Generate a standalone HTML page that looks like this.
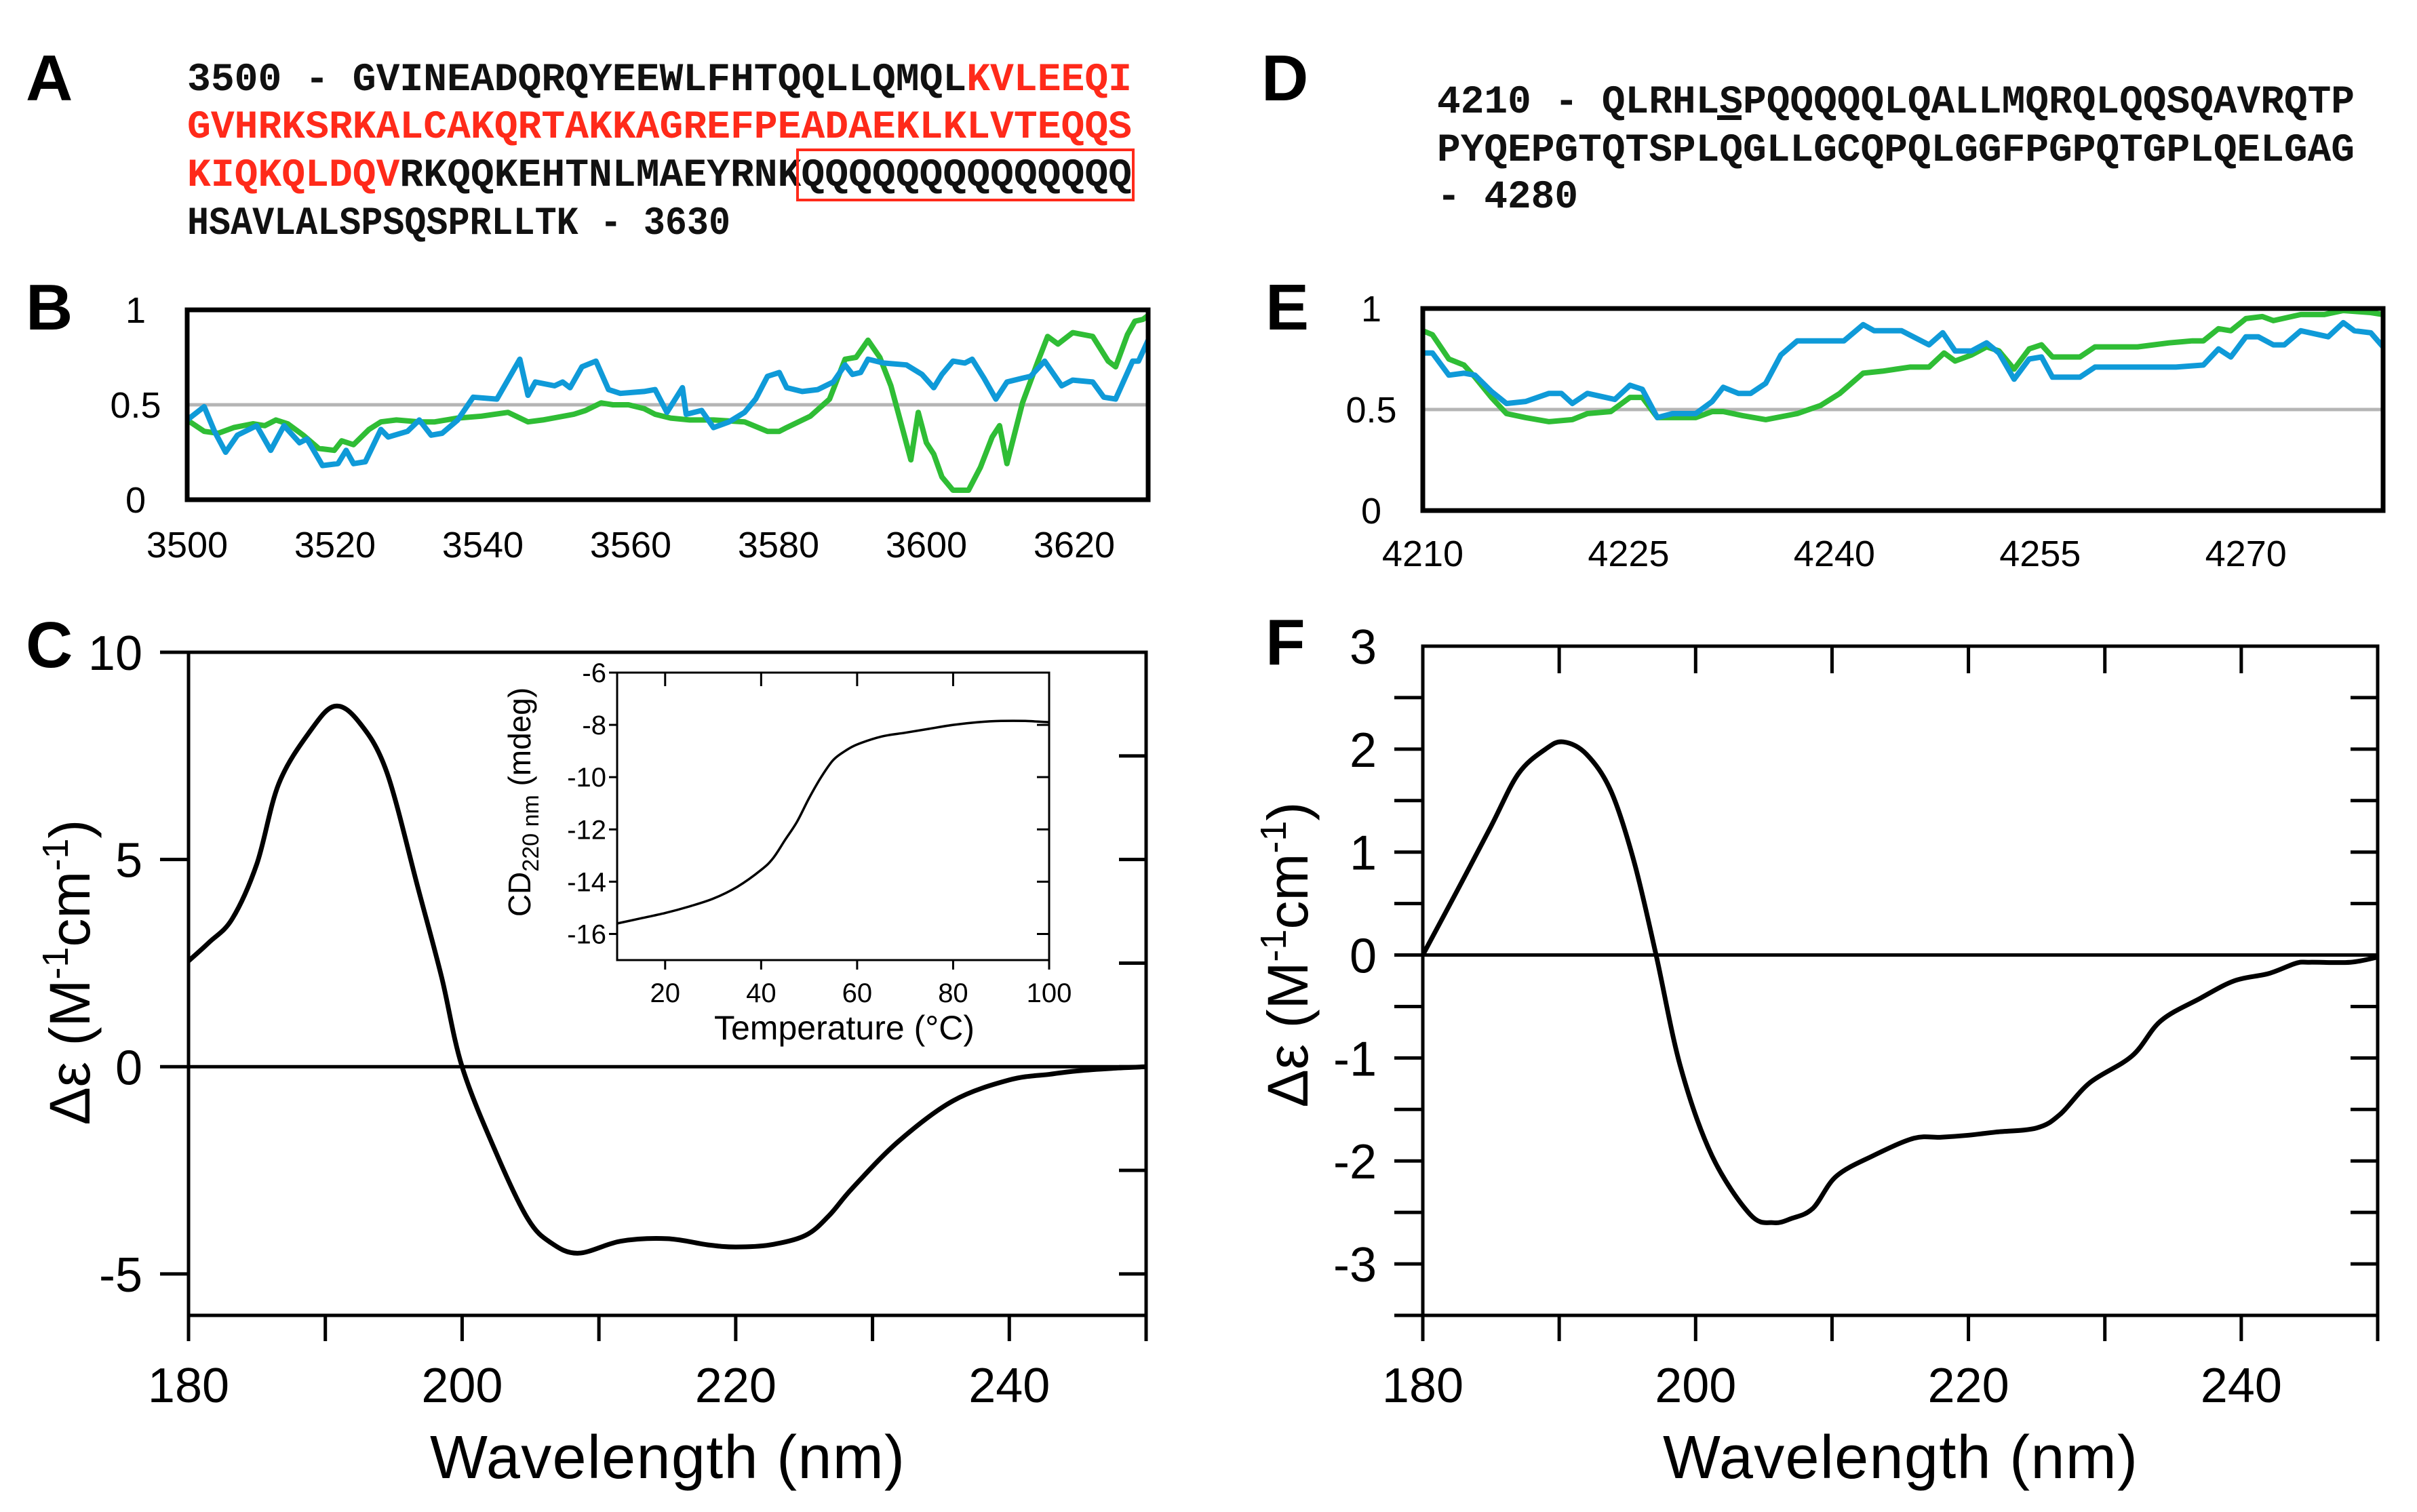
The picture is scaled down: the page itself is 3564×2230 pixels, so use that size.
<!DOCTYPE html>
<html><head><meta charset="utf-8"><style>
html,body{margin:0;padding:0;background:#fff;}
svg{display:block;}
.lbl{font-family:"Liberation Sans",sans-serif;font-weight:bold;font-size:96px;fill:#000;}
.seq{font-family:"Liberation Mono",monospace;font-weight:bold;font-size:58px;}
.tk{font-family:"Liberation Sans",sans-serif;fill:#000;}
</style></head><body>
<svg id="fig" width="3564" height="2230" viewBox="0 0 3564 2230" xmlns="http://www.w3.org/2000/svg">
<rect width="3564" height="2230" fill="#fff"/>
<text class="lbl" x="38" y="148">A</text>
<text class="lbl" x="38" y="486">B</text>
<text class="lbl" x="38" y="984">C</text>
<text class="lbl" x="1860" y="148">D</text>
<text class="lbl" x="1866" y="486">E</text>
<text class="lbl" x="1866" y="980">F</text>
<g>
<text class="seq" x="276" y="133" textLength="1393" lengthAdjust="spacingAndGlyphs"><tspan fill="#111">3500 - GVINEADQRQYEEWLFHTQQLLQMQL</tspan><tspan fill="#ff2a1a">KVLEEQI</tspan></text>
<text class="seq" x="276" y="203" textLength="1393" lengthAdjust="spacingAndGlyphs" fill="#ff2a1a">GVHRKSRKALCAKQRTAKKAGREFPEADAEKLKLVTEQQS</text>
<text class="seq" x="276" y="274" textLength="1393" lengthAdjust="spacingAndGlyphs"><tspan fill="#ff2a1a">KIQKQLDQV</tspan><tspan fill="#111">RKQQKEHTNLMAEYRNKQQQQQQQQQQQQQQ</tspan></text>
<text class="seq" x="276" y="345" textLength="801" lengthAdjust="spacingAndGlyphs" fill="#111">HSAVLALSPSQSPRLLTK - 3630</text>
<rect x="1176" y="221" width="495" height="74" fill="none" stroke="#ff2a1a" stroke-width="4"/>
</g>
<g>
<text class="seq" x="2119" y="166" textLength="1353" lengthAdjust="spacingAndGlyphs" fill="#111">4210 - QLRHLSPQQQQQLQALLMQRQLQQSQAVRQTP</text>
<text class="seq" x="2119" y="237" textLength="1353" lengthAdjust="spacingAndGlyphs" fill="#111">PYQEPGTQTSPLQGLLGCQPQLGGFPGPQTGPLQELGAG</text>
<text class="seq" x="2119" y="306" textLength="208" lengthAdjust="spacingAndGlyphs" fill="#111">- 4280</text>
<rect x="2532" y="170" width="36" height="7" fill="#111"/>
</g>
<g id="layer"></g>
</svg>
<script>
// Panel B data
const bBlueRes=[3500,3502.3,3503.7,3505.2,3506.8,3509.4,3511.3,3513.1,3515.2,3516.2,3518.3,3520.4,3521.5,3522.5,3524.1,3526.2,3527.2,3529.8,3531.4,3533.0,3534.5,3536.6,3538.7,3541.9,3545.0,3546.1,3547.1,3549.7,3550.8,3551.8,3553.4,3555.3,3557.0,3558.6,3561.8,3563.3,3564.9,3567.0,3567.5,3569.6,3571.2,3573.3,3575.4,3576.9,3578.5,3580.1,3581.1,3583.2,3585.3,3587.4,3589.0,3590.0,3591.1,3592.1,3594.2,3597.3,3599.4,3601.0,3602.1,3603.6,3605.2,3606.2,3607.8,3609.4,3610.9,3613.0,3614.1,3616.0,3618.3,3619.8,3622.5,3624.0,3625.6,3627.9,3628.7,3630];
const bBlueVal=[.42,.49,.36,.25,.34,.39,.26,.39,.30,.32,.18,.19,.26,.19,.20,.37,.33,.36,.42,.34,.35,.42,.54,.53,.74,.55,.62,.60,.62,.59,.70,.73,.58,.56,.57,.58,.46,.59,.45,.47,.38,.41,.46,.53,.65,.67,.59,.57,.58,.62,.71,.66,.67,.74,.72,.71,.66,.59,.66,.73,.72,.74,.64,.53,.62,.64,.65,.73,.60,.63,.62,.54,.53,.73,.73,.84];
const bGreenRes=[3500,3502.3,3504.2,3506.3,3508.9,3510.5,3512.0,3513.6,3515.7,3517.8,3519.9,3520.9,3522.5,3524.6,3526.2,3528.3,3531.4,3533.5,3536.6,3539.8,3543.4,3546.1,3548.1,3552.3,3553.9,3556.0,3557.6,3559.7,3561.8,3563.3,3565.4,3568.0,3571.2,3575.4,3578.5,3580.1,3581.1,3584.3,3586.9,3589.0,3590.5,3592.1,3593.7,3595.2,3596.8,3597.9,3598.9,3600.0,3601.0,3602.1,3603.6,3605.7,3607.3,3608.9,3609.9,3610.9,3613.0,3615.1,3616.4,3617.8,3619.8,3622.5,3624.6,3625.6,3627.2,3628.2,3629.3,3630];
const bGreenVal=[.42,.36,.35,.38,.40,.39,.42,.40,.34,.27,.26,.31,.29,.37,.41,.42,.41,.41,.43,.44,.46,.41,.42,.45,.47,.51,.50,.50,.48,.45,.43,.42,.42,.41,.36,.36,.38,.44,.53,.74,.75,.84,.75,.60,.37,.21,.46,.30,.24,.12,.05,.05,.17,.33,.39,.19,.51,.73,.86,.82,.88,.86,.73,.70,.87,.94,.95,.97];
const bXTicks=[3500,3520,3540,3560,3580,3600,3620];
const bYTicks=[0,0.5,1];
// Panel E data
const eGreenRes=[4210,4210.7,4211.9,4213.0,4213.8,4215.0,4216.1,4217.5,4219.2,4220.9,4222.0,4223.7,4225.1,4226.0,4227.1,4228.2,4229.9,4231.1,4231.9,4233.3,4235.0,4237.3,4239.0,4240.4,4242.1,4243.5,4245.5,4246.9,4248.0,4248.8,4250.0,4251.1,4252.0,4253.1,4254.2,4255.1,4255.9,4257.9,4259.0,4262.1,4264.4,4266.1,4266.9,4268.0,4268.9,4270.0,4271.2,4272.0,4274.0,4275.7,4277.1,4279.1,4280];
const eGreenVal=[.89,.87,.75,.72,.66,.56,.48,.46,.44,.45,.48,.49,.56,.56,.46,.46,.46,.49,.49,.47,.45,.48,.52,.58,.68,.69,.71,.71,.78,.74,.77,.81,.79,.70,.80,.82,.76,.76,.81,.81,.83,.84,.84,.90,.89,.95,.96,.94,.97,.97,.99,.98,.97];
const eBlueRes=[4210,4210.7,4211.9,4213.0,4213.8,4215.0,4216.1,4217.5,4219.2,4220.1,4220.9,4222.0,4224.0,4225.1,4226.0,4227.1,4228.2,4229.9,4231.1,4231.9,4233.0,4233.9,4235.0,4236.1,4237.3,4238.4,4240.7,4242.1,4242.9,4244.9,4246.9,4247.9,4248.8,4250.0,4251.1,4252.0,4253.1,4254.2,4255.1,4255.9,4257.9,4259.0,4264.9,4266.9,4268.0,4268.9,4270.0,4270.9,4272.0,4272.8,4274.0,4276.0,4277.1,4277.9,4279.1,4280];
const eBlueVal=[.78,.78,.67,.68,.67,.59,.53,.54,.58,.58,.53,.58,.55,.62,.60,.46,.48,.48,.54,.61,.58,.58,.63,.77,.84,.84,.84,.92,.89,.89,.82,.88,.79,.79,.83,.78,.65,.75,.76,.66,.66,.71,.71,.72,.80,.76,.86,.86,.82,.82,.89,.86,.93,.89,.88,.81];
const eXTicks=[4210,4225,4240,4255,4270];
const eYTicks=[0,0.5,1];
// Panel C data
const cWl=[180,181.5,183.2,185,186.6,188.9,190.7,192.5,194.5,196.8,198.5,200,202.5,204.8,206.5,208.5,211.6,215,218,220,222.5,225.1,226.8,228.5,231.9,235.9,240,243,245,247.5,250];
const cVal=[2.55,3.0,3.57,4.9,6.83,8.1,8.7,8.3,7.1,4.28,2.16,0,-2.09,-3.67,-4.25,-4.5,-4.21,-4.15,-4.3,-4.35,-4.3,-4.07,-3.6,-2.94,-1.8,-0.82,-0.32,-0.18,-0.1,-0.04,0];
const cXTicks=[180,200,220,240];
const cYTicks=[-5,0,5,10];
// Inset data
const iTemp=[10,15,20,25,30,35,40,42.5,45,47.5,50,52.5,55,57.5,60,65,70,75,80,85,90,95,100];
const iVal=[-15.6,-15.4,-15.2,-14.95,-14.65,-14.2,-13.55,-13.1,-12.4,-11.7,-10.8,-10.0,-9.35,-9.0,-8.75,-8.45,-8.3,-8.15,-8.0,-7.9,-7.85,-7.85,-7.9];
const iXTicks=[20,40,60,80,100];
const iYTicks=[-16,-14,-12,-10,-8,-6];
// Panel F data
const fWl=[180,182.5,185,187,189,190.3,192,193.8,195.5,197.1,198.9,201.2,204,205.7,207,208.6,210.3,213,216,218,220,222,225,226.7,228.9,232,234.1,237,239.5,242,244,245,248,250];
const fVal=[0,0.62,1.25,1.76,2.0,2.07,1.95,1.59,0.9,0,-1.09,-1.95,-2.52,-2.6,-2.56,-2.46,-2.15,-1.95,-1.78,-1.77,-1.75,-1.72,-1.68,-1.55,-1.24,-0.98,-0.64,-0.42,-0.25,-0.18,-0.08,-0.07,-0.07,-0.02];
const fXTicks=[180,200,220,240];
const fYTicks=[-3,-2,-1,0,1,2,3];

const NS='http://www.w3.org/2000/svg';
const layer=document.getElementById('layer');
function mk(tag,attrs,parent){const e=document.createElementNS(NS,tag);for(const k in attrs)e.setAttribute(k,attrs[k]);(parent||layer).appendChild(e);return e;}
function lin(d0,d1,r0,r1){return v=>r0+(v-d0)/(d1-d0)*(r1-r0);}
function pathD(xs,ys,sx,sy){return xs.map((x,i)=>(i?'L':'M')+sx(x).toFixed(1)+' '+sy(ys[i]).toFixed(1)).join(' ');}
function smoothD(xs,ys,sx,sy){
 const p=xs.map((x,i)=>[sx(x),sy(ys[i])]);
 let d='M'+p[0][0].toFixed(1)+' '+p[0][1].toFixed(1);
 for(let i=0;i<p.length-1;i++){
  const p0=p[Math.max(0,i-1)],p1=p[i],p2=p[i+1],p3=p[Math.min(p.length-1,i+2)];
  const c1x=p1[0]+(p2[0]-p0[0])/6,c1y=p1[1]+(p2[1]-p0[1])/6;
  const c2x=p2[0]-(p3[0]-p1[0])/6,c2y=p2[1]-(p3[1]-p1[1])/6;
  d+=` C${c1x.toFixed(1)} ${c1y.toFixed(1)} ${c2x.toFixed(1)} ${c2y.toFixed(1)} ${p2[0].toFixed(1)} ${p2[1].toFixed(1)}`;
 }
 return d;
}
function txt(x,y,s,size,anchor,parent){const t=mk('text',{x:x,y:y,'font-size':size,'text-anchor':anchor||'middle','class':'tk'},parent);t.textContent=s;return t;}

// ---------- Panel B ----------
(function(){
 const g=mk('g',{});
 
 
 const sx=lin(3500,3630,276,1693), sy=lin(0,1,737,457);
 const ref=mk('line',{x1:276,x2:1693,y1:sy(0.5),y2:sy(0.5),stroke:'#b5b5b5','stroke-width':5},g);
 
 
 const gr=mk('path',{d:pathD(bGreenRes,bGreenVal,sx,sy),fill:'none',stroke:'#2fbd35','stroke-width':8,'stroke-linejoin':'round'},g);
 
 
 const bl=mk('path',{d:pathD(bBlueRes,bBlueVal,sx,sy),fill:'none',stroke:'#0f9ad8','stroke-width':8,'stroke-linejoin':'round'},g);
 
 
 const fr=mk('rect',{x:276,y:457,width:1417,height:280,fill:'none',stroke:'#000','stroke-width':7},g);
 
 
 bXTicks.forEach(v=>{const t=txt(sx(v),822,String(v),54,'middle',g);
  
  });
 bYTicks.forEach(v=>{const t=txt(200,sy(v)+19,String(v),54,'middle',g);
  
  });
})();

// ---------- Panel E ----------
(function(){
 const g=mk('g',{});
 
 
 const sx=lin(4210,4280,2098,3514), sy=lin(0,1,753,455);
 const ref=mk('line',{x1:2098,x2:3514,y1:sy(0.5),y2:sy(0.5),stroke:'#b5b5b5','stroke-width':5},g);
 
 
 const gr=mk('path',{d:pathD(eGreenRes,eGreenVal,sx,sy),fill:'none',stroke:'#2fbd35','stroke-width':8,'stroke-linejoin':'round'},g);
 
 
 const bl=mk('path',{d:pathD(eBlueRes,eBlueVal,sx,sy),fill:'none',stroke:'#0f9ad8','stroke-width':8,'stroke-linejoin':'round'},g);
 
 
 const fr=mk('rect',{x:2098,y:455,width:1416,height:298,fill:'none',stroke:'#000','stroke-width':7},g);
 
 
 eXTicks.forEach(v=>{const t=txt(sx(v),835,String(v),54,'middle',g);
  
  });
 eYTicks.forEach(v=>{const t=txt(2022,sy(v)+19,String(v),54,'middle',g);
  
  });
})();

// ---------- CD panels ----------
function cdPanel(name,L,R,T,B,y0,y1,wl,val,xt,yt,rightMinor,leftTicks,topTicks,titleX,titleY){
 const g=mk('g',{});
 
 
 const sx=lin(180,250,L,R), sy=lin(y0,y1,B,T);
 const ax=mk('path',{d:`M${L} ${T} L${R} ${T} L${R} ${B} L${L} ${B} Z`,fill:'none',stroke:'#000','stroke-width':5},g);
 
 
 const zl=mk('line',{x1:L,x2:R,y1:sy(0),y2:sy(0),stroke:'#000','stroke-width':5},g);
 
 
 for(let w=180;w<=250;w+=10){const t=mk('line',{x1:sx(w),x2:sx(w),y1:B,y2:B+38,stroke:'#000','stroke-width':5},g);
  
  
  if(topTicks&&w>180&&w<250){const t2=mk('line',{x1:sx(w),x2:sx(w),y1:T,y2:T+40,stroke:'#000','stroke-width':5},g);
   
   }}
 rightMinor.forEach(v=>{const t=mk('line',{x1:R-40,x2:R,y1:sy(v),y2:sy(v),stroke:'#000','stroke-width':5},g);
  
  });
 leftTicks.forEach(v=>{const t=mk('line',{x1:L-42,x2:L,y1:sy(v),y2:sy(v),stroke:'#000','stroke-width':5},g);
  
  });
 xt.forEach(v=>{const t=txt(sx(v),2068,String(v),72,'middle',g);
  
  });
 yt.forEach(v=>{const t=txt(L-68,sy(v)+26,String(v),72,'end',g);
  
  });
 const cv=mk('path',{d:smoothD(wl,val,sx,sy),fill:'none',stroke:'#000','stroke-width':7,'stroke-linejoin':'round'},g);
 
 
 const xl=txt((L+R)/2,2180,'Wavelength (nm)',90,'middle',g);
 xl.setAttribute('textLength','700');
 
 
 const yl=mk('text',{x:0,y:0,'font-size':84,'text-anchor':'middle','class':'tk',transform:`translate(${titleX},${titleY}) rotate(-90)`},g);
 yl.innerHTML='Δε (M<tspan font-size="54" dy="-32">-1</tspan><tspan dy="32">cm</tspan><tspan font-size="54" dy="-32">-1</tspan><tspan dy="32">)</tspan>';
 
 
 return g;
}
const cMinor=[];for(let v=-5;v<=7.5;v+=2.5)cMinor.push(v);
cdPanel('panel-c-chart',278,1690,962,1940,-6,10,cWl,cVal,cXTicks,cYTicks,cMinor,cYTicks,false,132,1434);
const fMinor=[];for(let v=-3.5;v<=2.5;v+=0.5)fMinor.push(v);
cdPanel('panel-f-chart',2098,3506,953,1940,-3.5,3,fWl,fVal,fXTicks,fYTicks,fMinor,fMinor,true,1928,1408);

// ---------- Inset ----------
(function(){
 const g=mk('g',{});
 
 
 const L=910,R=1547,T=992,B=1416;
 const sx=lin(10,100,L,R), sy=lin(-17,-6,B,T);
 const fr=mk('rect',{x:L,y:T,width:R-L,height:B-T,fill:'none',stroke:'#000','stroke-width':3},g);
 
 
 iXTicks.forEach(v=>{
  const t=mk('line',{x1:sx(v),x2:sx(v),y1:B,y2:B+14,stroke:'#000','stroke-width':3},g);
  
  
  if(v<100){const t2=mk('line',{x1:sx(v),x2:sx(v),y1:T,y2:T+20,stroke:'#000','stroke-width':3},g);
   
   }
  const l=txt(sx(v),B+62,String(v),40,'middle',g);
  
  });
 iYTicks.forEach(v=>{
  const t=mk('line',{x1:R-18,x2:R,y1:sy(v),y2:sy(v),stroke:'#000','stroke-width':3},g);
  
  
  const t2=mk('line',{x1:L-12,x2:L,y1:sy(v),y2:sy(v),stroke:'#000','stroke-width':3},g);
  
  
  const l=txt(L-16,sy(v)+14,String(v),40,'end',g);
  
  });
 const cv=mk('path',{d:smoothD(iTemp,iVal,sx,sy),fill:'none',stroke:'#000','stroke-width':3.5,'stroke-linejoin':'round'},g);
 
 
 const xl=txt(1245,1533,'Temperature (°C)',50,'middle',g);
 
 
 const yl=mk('text',{x:0,y:0,'font-size':46,'text-anchor':'middle','class':'tk',transform:'translate(782,1183) rotate(-90)'},g);
 yl.innerHTML='CD<tspan font-size="34" dy="12">220 nm</tspan><tspan dy="-12"> (mdeg)</tspan>';
 
 
})();
</script>
</body></html>
